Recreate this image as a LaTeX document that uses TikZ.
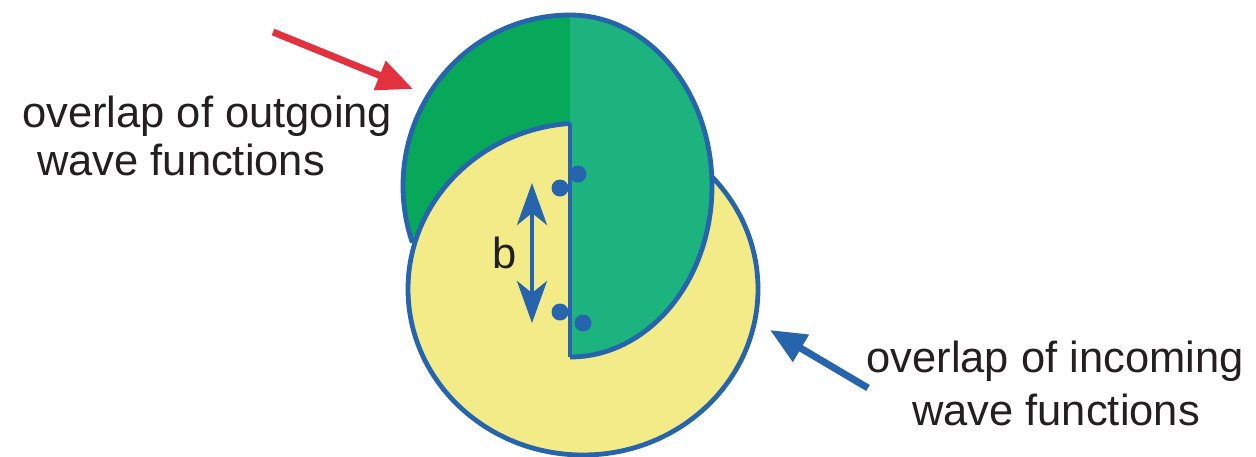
\documentclass[tikz,border=0pt]{standalone}
\usepackage{fontspec}
\setmainfont{Liberation Sans}
\usetikzlibrary{arrows.meta}
\definecolor{rimblue}{RGB}{38,100,174}
\definecolor{outgreen}{RGB}{8,168,90}
\definecolor{ingreen}{RGB}{29,179,126}
\definecolor{inyellow}{RGB}{242,235,136}
\definecolor{arrred}{RGB}{227,50,63}
\definecolor{ink}{RGB}{35,31,32}
\begin{document}
\begin{tikzpicture}[x=1pt, y=-1pt,
    rim/.style={draw=rimblue, line width=4.8pt},
    lbl/.style={font=\fontsize{43.5}{48}\selectfont, text=ink, inner sep=0pt},
    dot/.style={fill=rimblue},
    redarr/.style={-{Triangle[length=36pt, width=30pt]}, draw=arrred, line width=7pt},
    bluearr/.style={-{Triangle[length=36pt, width=30pt]}, draw=rimblue, line width=7pt},
    sep/.style={{Stealth[length=42pt, width=30pt, inset=12pt]}-{Stealth[length=42pt, width=30pt, inset=12pt]}, draw=rimblue, line width=4.5pt},
]
\useasboundingbox (0,0) rectangle (1256,456);

% outgoing wave, left half (behind, cut off low down)
\begin{scope}
  \clip (380,0) rectangle (575,242);
  \fill[outgreen] (570,15) arc[start angle=90, end angle=270, x radius=167pt, y radius=171pt] -- cycle;
  \draw[rim] (570,15) arc[start angle=90, end angle=270, x radius=167pt, y radius=171pt];
\end{scope}
% incoming wave
\filldraw[rim, fill=inyellow] (583,289) ellipse [x radius=175pt, y radius=166pt];
% outgoing wave, right half (front)
\fill[ingreen] (570,15) arc[start angle=90, end angle=-90, x radius=142pt, y radius=171pt] -- cycle;
\draw[rim] (570,15) arc[start angle=90, end angle=-90, x radius=142pt, y radius=171pt];
\draw[rim] (570,123) -- (570,357);

\fill[dot] (560,188) circle[radius=8.5pt];
\fill[dot] (578,174) circle[radius=8.5pt];
\fill[dot] (560,312) circle[radius=8.5pt];
\fill[dot] (583,323) circle[radius=8.5pt];

\coordinate (btop) at (532,183);
\coordinate (bbot) at (532,323);
\draw[sep] (btop) -- (bbot);
\node[lbl] (blbl) at (505,253) {b};

\node[lbl, anchor=base west] (outa) at (22,127) {overlap of outgoing};
\node[lbl, anchor=base west] (outb) at (37,175) {wave functions};
\node[lbl, anchor=base] (ina) at (1055,372) {overlap of incoming};
\node[lbl, anchor=base] (inb) at (1056,425) {wave functions};

\coordinate (rtail) at (273,32);
\coordinate (rtip) at (413,89);
\draw[redarr] (rtail) -- (rtip);
\coordinate (btail) at (868,388);
\coordinate (btip) at (770,330);
\draw[bluearr] (btail) -- (btip);
\end{tikzpicture}
\end{document}
